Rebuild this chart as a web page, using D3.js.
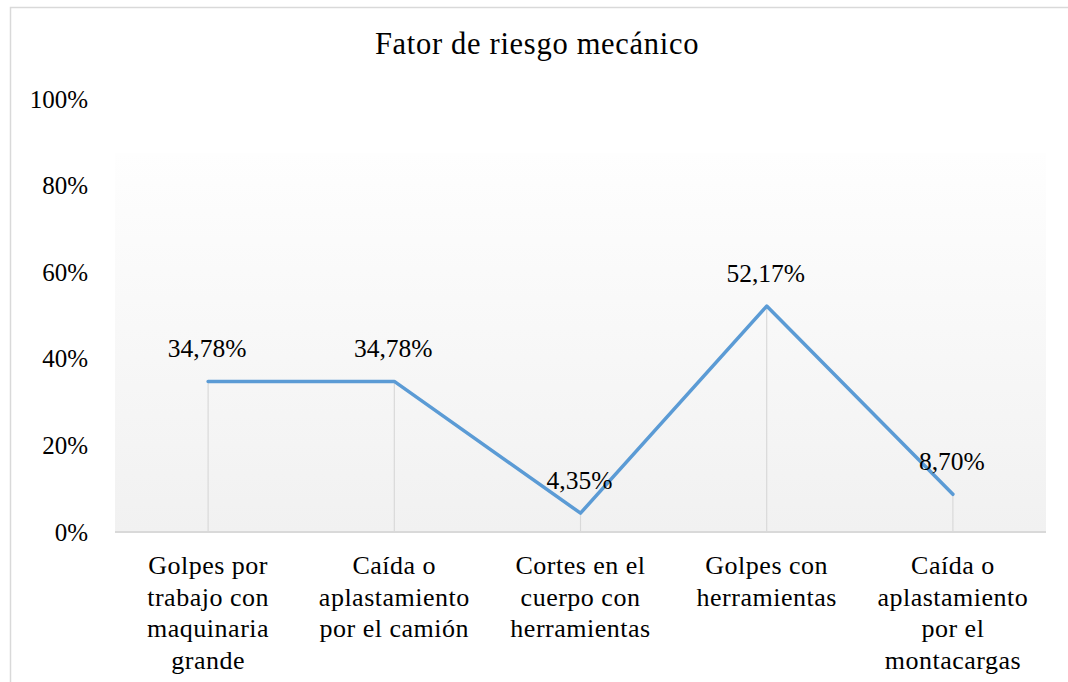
<!DOCTYPE html>
<html>
<head>
<meta charset="utf-8">
<script src="https://cdn.jsdelivr.net/npm/d3@7"></script>
<style>
  html, body { margin: 0; padding: 0; background: #fff; }
</style>
</head>
<body>
<div id="chart"></div>
<script>
// Datos del gráfico
const title = "Fator de riesgo mecánico";
const categories = [
    "Golpes por trabajo con maquinaria grande",
    "Caída o aplastamiento por el camión",
    "Cortes en el cuerpo con herramientas",
    "Golpes con herramientas",
    "Caída o aplastamiento por el montacargas"
];
const values = [0.3478, 0.3478, 0.0435, 0.5217, 0.0870];
const valueLabels = ["34,78%", "34,78%", "4,35%", "52,17%", "8,70%"];
const yTicks = [0, 0.2, 0.4, 0.6, 0.8, 1.0];

const FONT = "'Liberation Serif', Tinos, 'Times New Roman', 'DejaVu Serif', serif";
const width = 1068, height = 682;
const margin = { top: 99, right: 22, bottom: 150, left: 115 };

const svg = d3.select('#chart')
    .append('svg')
    .attr('width', width)
    .attr('height', height)
    .style('font-family', FONT);

// Marco exterior
svg.append('rect')
    .attr('x', 10.5).attr('y', 7.5)
    .attr('width', width + 10).attr('height', height + 10)
    .attr('fill', '#fff')
    .attr('stroke', '#d9d9d9')
    .attr('stroke-width', 1.5);

const x = d3.scaleBand()
    .domain(categories)
    .range([margin.left, width - margin.right]);

const y = d3.scaleLinear()
    .domain([0, 1])
    .range([height - margin.bottom, margin.top]);

// Fondo degradado del área de trazado
const defs = svg.append('defs');
const grad = defs.append('linearGradient')
    .attr('id', 'bg').attr('x1', 0).attr('y1', 0).attr('x2', 0).attr('y2', 1);
grad.append('stop').attr('offset', '0%').attr('stop-color', '#fefefe');
grad.append('stop').attr('offset', '100%').attr('stop-color', '#f1f1f1');

svg.append('rect')
    .attr('x', margin.left)
    .attr('y', y(0.875))
    .attr('width', x.range()[1] - margin.left)
    .attr('height', y(0) - y(0.875))
    .attr('fill', 'url(#bg)');

// Título
svg.append('text')
    .attr('x', 537)
    .attr('y', 54)
    .attr('text-anchor', 'middle')
    .style('font-family', FONT)
    .style('font-size', '30.5px')
    .style('letter-spacing', '0.7px')
    .text(title);

// Eje Y (solo etiquetas)
const yAxis = svg.append('g')
    .attr('transform', `translate(${margin.left - 27}, 0)`)
    .call(d3.axisLeft(y).tickValues(yTicks).tickFormat(d3.format('.0%')).tickSize(0).tickPadding(0));
yAxis.select('.domain').remove();
yAxis.attr('font-family', null).attr('font-size', null);
yAxis.selectAll('text')
    .style('font-family', FONT)
    .style('font-size', '25px')
    .attr('fill', '#000')
    .attr('dy', '0.32em');

// Líneas de caída
const cx = d => x(d) + x.bandwidth() / 2;
svg.selectAll('.drop')
    .data(categories)
    .enter()
    .append('line')
    .attr('x1', d => cx(d)).attr('x2', d => cx(d))
    .attr('y1', (d, i) => y(values[i]))
    .attr('y2', y(0))
    .attr('stroke', '#d9d9d9')
    .attr('stroke-width', 1.2);

// Eje X (línea base)
svg.append('line')
    .attr('x1', margin.left).attr('x2', x.range()[1])
    .attr('y1', y(0)).attr('y2', y(0))
    .attr('stroke', '#d9d9d9')
    .attr('stroke-width', 2);

// Línea de datos
const line = d3.line()
    .x((d, i) => cx(categories[i]))
    .y(d => y(d));

svg.append('path')
    .datum(values)
    .attr('d', line)
    .attr('fill', 'none')
    .attr('stroke', '#5b9bd5')
    .attr('stroke-width', 3.5)
    .attr('stroke-linejoin', 'round')
    .attr('stroke-linecap', 'round');

// Etiquetas de valores
svg.selectAll('.vlabel')
    .data(values)
    .enter()
    .append('text')
    .attr('x', (d, i) => cx(categories[i]) - 1)
    .attr('y', d => y(d) - 24)
    .attr('text-anchor', 'middle')
    .style('font-family', FONT)
    .style('font-size', '25.5px')
    .text((d, i) => valueLabels[i]);

// Etiquetas de categorías con ajuste de texto
function wrap(textSel, maxWidth) {
    textSel.each(function (d) {
        const text = d3.select(this);
        const words = d.split(' ');
        const lines = [];
        let current = [];
        const probe = text.append('tspan');
        words.forEach(w => {
            const test = current.concat([w]).join(' ');
            probe.text(test);
            if (probe.node().getComputedTextLength() > maxWidth && current.length) {
                lines.push(current.join(' '));
                current = [w];
            } else {
                current.push(w);
            }
        });
        lines.push(current.join(' '));
        probe.remove();
        lines.forEach((l, i) => {
            text.append('tspan')
                .attr('x', text.attr('x'))
                .attr('dy', i === 0 ? 0 : 31.5)
                .text(l);
        });
    });
}

svg.selectAll('.xlabel')
    .data(categories)
    .enter()
    .append('text')
    .attr('x', d => cx(d))
    .attr('y', y(0) + 42)
    .attr('text-anchor', 'middle')
    .style('font-family', FONT)
    .style('font-size', '26px')
    .style('letter-spacing', '0.5px')
    .call(wrap, 170);
</script>
</body>
</html>
